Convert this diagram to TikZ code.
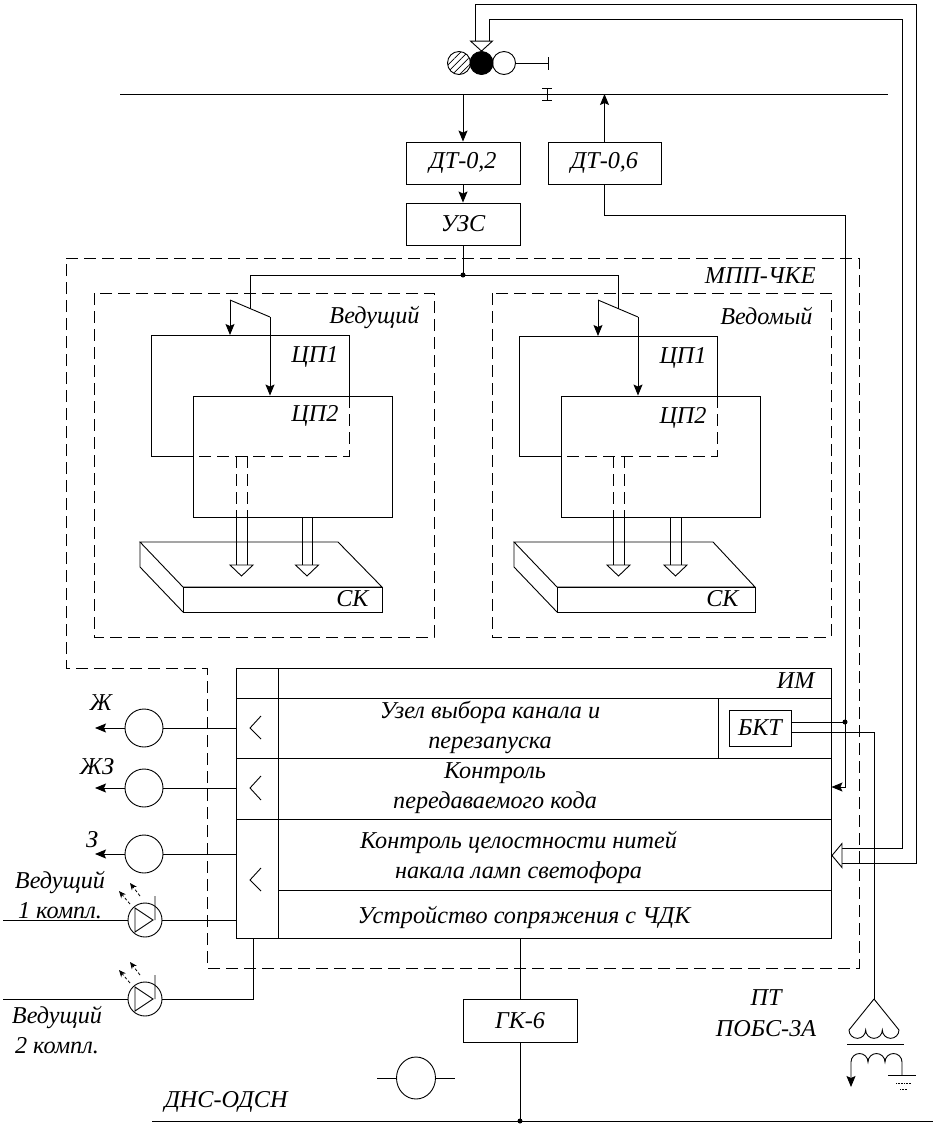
\documentclass[tikz,border=0pt]{standalone}
\usepackage{fontspec}
\setmainfont{Liberation Serif}
\usetikzlibrary{arrows.meta,patterns.meta,shapes.geometric}

\begin{document}
\begin{tikzpicture}[x=1pt,y=-1pt,line width=0.9pt,
  font=\fontsize{24.2}{30.5}\selectfont\itshape,
  block/.style={draw,rectangle,inner sep=0pt},
  lbl/.style={inner sep=0pt},
  lamp/.style={draw,circle,inner sep=0pt,minimum size=38pt},
  led/.style={draw,circle,inner sep=0pt,minimum size=34pt},
  signal/.style={draw,circle,inner sep=0pt,minimum size=23pt},
  frame/.style={dash pattern=on 12pt off 6pt},
  arr/.style={-{Stealth[length=11pt,width=9pt,inset=2pt]}},
  ray/.style={densely dashed,line width=0.8pt,-{Stealth[length=7pt,width=6pt]}},
  hollow/.style={draw,fill=white}]
\useasboundingbox (0,0) rectangle (936,1128);
\def\railY{94}
\def\busY{1121}

% track and signal
\coordinate (railL) at (120,\railY);
\coordinate (railR) at (888,\railY);
\draw (railL) -- (railR);
\draw (547,88) -- (547,100) (542,88) -- (552,88) (542,100) -- (552,100);
\node[signal,pattern={Lines[angle=45,distance=5pt,line width=0.7pt]}] (sigR) at (459,63) {};
\node[signal,fill=black] (sigY) at (481.5,63) {};
\node[signal] (sigG) at (504,63) {};
\coordinate (mast) at (548,63);
\draw (sigG) -- (mast);
\draw (548,57) -- (548,70);

% cable from the lamp check
\draw (475,41) -- (475,4) -- (916,4) -- (916,863) -- (842,863);
\draw (489,41) -- (489,19) -- (902,19) -- (902,848) -- (842,848);
\draw[hollow] (sigY.north) -- ++(-11,-10) -- ++(22,0) -- cycle;

% track circuit
\node[block,minimum width=114pt,minimum height=42pt] (dt02) at (463,163) {ДТ-0,2};
\node[block,minimum width=113pt,minimum height=42pt] (dt06) at (604.5,163) {ДТ-0,6};
\node[block,minimum width=114pt,minimum height=42pt] (uzs) at (463,224) {УЗС};
\draw[arr] (dt02.north |- railL) -- (dt02.north);
\draw[arr] (dt02) -- (uzs);
\draw[arr] (dt06.north) -- (dt06.north |- railL);
\coordinate (jA) at (463,275);
\draw (uzs) -- (jA);
\fill (jA) circle (2.5);
\draw (250,308.5) -- (250,275) -- (618,275) -- (618,308.5);

% MPP
\draw[frame] (66,258) -- (859,258) -- (859,968) -- (207,968) -- (207,668) -- (66,668) -- cycle;
\node[lbl,anchor=east] (mppLbl) at (816,276) {МПП-ЧКЕ};

% leading set
\draw[frame] (94,293) rectangle (434,637);
\node[lbl,anchor=east] (leadLbl) at (420,317) {Ведущий};
\draw (193,456) -- (151,456) -- (151,335) -- (349,335) -- (349,396);
\draw[frame] (349,396) -- (349,456) -- (193,456);
\node[draw,minimum width=199pt,minimum height=121pt,inner sep=0pt] (cp2a) at (292.5,456.5) {};
\node[lbl,anchor=east] (cp1aLbl) at (339,357) {ЦП1};
\node[lbl,anchor=east] (cp2aLbl) at (339,416) {ЦП2};
\coordinate (swA1) at (230,300);
\coordinate (swA2) at (270,317);
\draw (swA1) -- (swA2);
\draw[arr] (swA1) -- (230,335);
\draw[arr] (swA2) -- (swA2 |- cp2a.north);
\draw (140,542) -- (338,542) -- (382,587) -- (183,587) -- cycle;
\draw (183,587) rectangle (382,612);
\draw (140,542) -- (140,567) -- (183,612);
\node[lbl,anchor=east] (skaLbl) at (369,599) {СК};
\draw[frame] (236,456) -- (236,517) (247,456) -- (247,517);
\draw (236,517) -- (236,565) (247,517) -- (247,565);
\draw[hollow] (230,565) -- (253,565) -- (241.5,576) -- cycle;
\draw (302,517) -- (302,565) (312,517) -- (312,565);
\draw[hollow] (295.5,565) -- (318.5,565) -- (307,576) -- cycle;

% driven set
\draw[frame] (492,293) rectangle (831,637);
\node[lbl,anchor=east] (drivLbl) at (813,316) {Ведомый};
\draw (561,456) -- (519,456) -- (519,336) -- (717,336) -- (717,396);
\draw[frame] (717,396) -- (717,456) -- (561,456);
\node[draw,minimum width=199pt,minimum height=121pt,inner sep=0pt] (cp2b) at (660.5,456.5) {};
\node[lbl,anchor=east] (cp1bLbl) at (707,358) {ЦП1};
\node[lbl,anchor=east] (cp2bLbl) at (707,418) {ЦП2};
\coordinate (swB1) at (598,300);
\coordinate (swB2) at (638,317);
\draw (swB1) -- (swB2);
\draw[arr] (swB1) -- (598,336);
\draw[arr] (swB2) -- (swB2 |- cp2b.north);
\draw (514,542) -- (713,542) -- (755,587) -- (557,587) -- cycle;
\draw (557,587) rectangle (755,612);
\draw (514,542) -- (514,567) -- (557,612);
\node[lbl,anchor=east] (skbLbl) at (739,599) {СК};
\draw[frame] (613,456) -- (613,517) (624,456) -- (624,517);
\draw (613,517) -- (613,565) (624,517) -- (624,565);
\draw[hollow] (607,565) -- (630,565) -- (618.5,576) -- cycle;
\draw (670,517) -- (670,565) (681,517) -- (681,565);
\draw[hollow] (664,565) -- (687,565) -- (675.5,576) -- cycle;

% IM
\node[draw,minimum width=595pt,minimum height=270pt,inner sep=0pt] (im) at (533.5,803) {};
\node[lbl,anchor=east] (imLbl) at (815,681) {ИМ};
\draw (278,668) -- (278,938);
\draw (236,698) -- (831,698);
\draw (236,758) -- (831,758);
\draw (236,819) -- (831,819);
\draw (278,890) -- (831,890);
\draw (718,698) -- (718,758);
\draw (261,716) -- (250,728) -- (261,739);
\draw (261,776) -- (250,788) -- (261,800);
\draw (261,868) -- (250,880) -- (261,891);
\node[lbl,align=center] (selLbl) at (490,727.5) {Узел выбора канала и\\перезапуска};
\node[lbl,align=center] (codeLbl) at (495,788) {Контроль\\передаваемого кода};
\node[lbl,align=center] (filLbl) at (518.5,857.5) {Контроль целостности нитей\\накала ламп светофора};
\node[lbl] (cdkLbl) at (524,917) {Устройство сопряжения с ЧДК};
\node[block,minimum width=62pt,minimum height=36pt] (bkt) at (760,728) {БКТ};
\coordinate (jB) at (845,722);
\draw[arr] (dt06.south) |- (jB |- 0,215) |- (im.east |- 0,787);
\draw (bkt.east |- jB) -- (jB);
\fill (jB) circle (2.5);
\coordinate (kIn) at (832,855.5);
\draw[hollow] (kIn) -- ++(10,-12) -- ++(0,24) -- cycle;

% lamps
\node[lamp] (lZh) at (144,728) {};
\node[lamp] (lZhZ) at (144,788) {};
\node[lamp] (lZ) at (144,854) {};
\coordinate (oZh) at (95,728);
\coordinate (oZhZ) at (95,788);
\coordinate (oZ) at (95,854);
\draw[arr] (lZh) -- (oZh);
\draw[arr] (lZhZ) -- (oZhZ);
\draw[arr] (lZ) -- (oZ);
\draw (lZh) -- (im.west |- lZh);
\draw (lZhZ) -- (im.west |- lZhZ);
\draw (lZ) -- (im.west |- lZ);
\node[lbl] (tZh) at (101,703) {Ж};
\node[lbl] (tZhZ) at (97,767) {ЖЗ};
\node[lbl] (tZ) at (92,840) {З};

% diodes
\node[led] (ledA) at (145,920) {};
\node[led] (ledB) at (145,999) {};
\draw (ledA.center) ++(-10,-12) -- ++(0,24) -- ++(18,-12) -- cycle ++(20,-12) -- ++(0,24);
\draw (ledB.center) ++(-10,-12) -- ++(0,24) -- ++(18,-12) -- cycle ++(20,-12) -- ++(0,24);
\draw[ray] ([shift={(-5,-24)}]ledA.center) -- ++(-10,-13);
\draw[ray] ([shift={(-15,-16)}]ledA.center) -- ++(-11,-13);
\draw[ray] ([shift={(-5,-24)}]ledB.center) -- ++(-10,-13);
\draw[ray] ([shift={(-15,-16)}]ledB.center) -- ++(-11,-13);
\coordinate (inA) at (3,920);
\coordinate (inB) at (3,999);
\coordinate (imB) at (253,938);
\draw (inA) -- (ledA);
\draw (ledA) -- (im.west |- ledA);
\draw (inB) -- (ledB);
\draw (ledB) -| (imB);
\node[lbl,align=center] (tLedA) at (60,895) {Ведущий\\1 компл.};
\node[lbl,align=center] (tLedB) at (57,1030) {Ведущий\\2 компл.};

% bottom
\node[block,minimum width=114pt,minimum height=43pt] (gk6) at (520,1020.5) {ГК-6};
\coordinate (bus) at (520,\busY);
\draw (im.south -| gk6) -- (gk6);
\draw (gk6) -- (bus);
\fill (bus) circle (2.5);
\draw (152,\busY) -- (933,\busY);
\node[lbl] (tDns) at (226,1102) {ДНС-ОДСН};
\node[draw,ellipse,minimum width=39pt,minimum height=42pt,inner sep=0pt] (rel) at (416,1078) {};
\coordinate (relL) at (377,1078);
\coordinate (relR) at (455,1078);
\draw (relL) -- (rel);
\draw (rel) -- (relR);
\node[lbl,align=center] (tPt) at (766,1013) {ПТ\\ПОБС-3А};

% transformer
\coordinate (trA) at (874,999);
\draw (bkt.east |- 0,732) -| (trA);
\begin{scope}[shift={(trA)},y=1pt]
\draw (0,0) -- (-25,-31) arc (180:360:8.33) arc (180:360:8.33) arc (180:360:8.33) -- (0,0);
\draw (-27,-45) -- (30,-45);
\draw[arr] (28,-76) -- (28,-63) arc (0:180:8.5) arc (0:180:8.5) arc (0:180:8.5) -- (-23,-88);
\draw (14,-76) -- (42,-76);
\draw[densely dotted,line width=0.6pt] (22,-84) -- (37,-84) (26,-90) -- (33,-90);
\end{scope}
\end{tikzpicture}
\end{document}
